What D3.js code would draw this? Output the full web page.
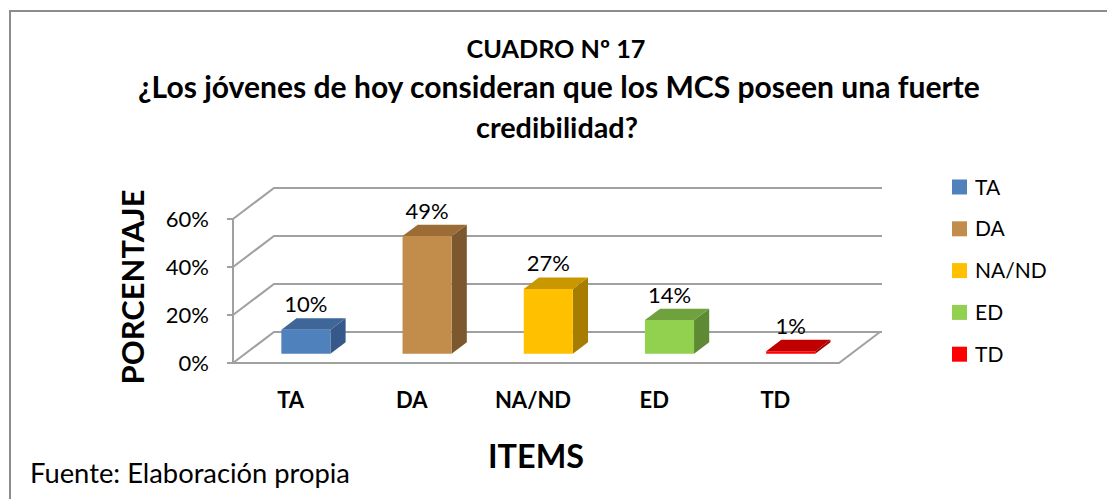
<!DOCTYPE html>
<html>
<head>
<meta charset="utf-8">
<script src="https://cdn.jsdelivr.net/npm/d3@7"></script>
<style>
  html, body { margin: 0; padding: 0; background: #fff; }
  svg { display: block; }
  text { font-family: Lato, "Open Sans", sans-serif; fill: #000; }
</style>
</head>
<body>
<svg id="chart" width="1107" height="499"></svg>
<script>
// ---- data ----
const categories = ["TA", "DA", "NA/ND", "ED", "TD"];
const values = [10, 49, 27, 14, 1];
const valueLabels = ["10%", "49%", "27%", "14%", "1%"];
const yTicks = [0, 20, 40, 60];
const tickLabels = ["0%", "20%", "40%", "60%"];
const titleLines = ["CUADRO Nº 17", "¿Los jóvenes de hoy consideran que los MCS poseen una fuerte", "credibilidad?"];
const xTitle = "ITEMS";
const yTitle = "PORCENTAJE";
const source = "Fuente: Elaboración propia";
// colours: [front, top, side] per category, legend colour
const faceColors = [
  ["#4F81BD", "#3E6699", "#36598A"],
  ["#C28C4A", "#9C6C36", "#7B582D"],
  ["#FFC000", "#C99700", "#A67D00"],
  ["#92D050", "#6FA13F", "#5E8A34"],
  ["#FF0000", "#C00000", "#A00000"]
];
const legendColors = ["#4F81BD", "#C28C4A", "#FFC000", "#92D050", "#FF0000"];

// ---- layout ----
const svg = d3.select("#chart");
const X0 = 233, X1 = 839;     // front plane x range
const DX = 41, DY = 31;       // depth offset
const Z0 = 0.30, Z1 = 0.67;   // bar depth range

const x = d3.scaleBand().domain(categories).range([X0, X1]).paddingInner(0).paddingOuter(0);
const y = d3.scaleLinear().domain([0, 60]).range([363, 219]);
const barW = x.bandwidth() * 0.405;

const P = (px, v, z) => [px + z * DX, y(v) - z * DY];
const grid = "#A0A0A0";

// frame
svg.append("path")
  .attr("d", "M10,510 L10,11 L1120,11")
  .attr("fill", "none").attr("stroke", "#8C8C8C").attr("stroke-width", 2);

// floor fill
svg.append("polygon")
  .attr("points", [P(X0,0,0), P(X1,0,0), P(X1,0,1), P(X0,0,1)].map(p => p.join(",")).join(" "))
  .attr("fill", "#fff");

// gridlines (side wall + back wall)
const gl = svg.append("g").attr("stroke", grid).attr("stroke-width", 2).attr("fill", "none");
yTicks.forEach(t => {
  gl.append("polyline")
    .attr("points", [P(X0,t,0), P(X0,t,1), P(X1 + 2, t, 1)].map(p => p.join(",")).join(" "));
});
// floor front and right edges
gl.append("polyline")
  .attr("points", [P(X0,0,0), P(X1,0,0), P(X1,0,1)].map(p => p.join(",")).join(" "));
// front vertical axis
gl.append("line").attr("x1", X0).attr("x2", X0).attr("y1", y(0)).attr("y2", y(60));
// ticks
yTicks.forEach(t => {
  gl.append("line").attr("x1", X0 - 6).attr("x2", X0).attr("y1", y(t)).attr("y2", y(t));
});

// helper to fit a text to a target width
function fit(sel, w) {
  const n = sel.node();
  const len = n.getComputedTextLength();
  const fs = parseFloat(sel.attr("font-size"));
  sel.attr("font-size", fs * w / len);
}

// tick labels
svg.append("g").selectAll("text").data(yTicks).join("text")
  .attr("x", 209).attr("y", d => y(d) + 7.5)
  .attr("text-anchor", "end").attr("font-size", 22)
  .text((d, i) => tickLabels[i]);

// bars
const bars = svg.append("g");
categories.forEach((c, i) => {
  const v = values[i];
  const xl = x(c) + (x.bandwidth() - barW) / 2;
  const xr = xl + barW;
  const col = faceColors[i];
  const pts = a => a.map(p => p.join(",")).join(" ");
  const g = bars.append("g");
  // side
  g.append("polygon").attr("points", pts([P(xr,0,Z0), P(xr,v,Z0), P(xr,v,Z1), P(xr,0,Z1)])).attr("fill", col[2]);
  // top
  g.append("polygon").attr("points", pts([P(xl,v,Z0), P(xr,v,Z0), P(xr,v,Z1), P(xl,v,Z1)])).attr("fill", col[1]);
  // front
  g.append("polygon").attr("points", pts([P(xl,0,Z0), P(xr,0,Z0), P(xr,v,Z0), P(xl,v,Z0)])).attr("fill", col[0]);
  // data label
  const top = P((xl + xr) / 2, v, Z1);
  g.append("text")
    .attr("x", (xl + xr) / 2 + Z0 * DX).attr("y", top[1] - 6)
    .attr("text-anchor", "middle").attr("font-size", 22)
    .text(valueLabels[i]);
});

// category labels
svg.append("g").selectAll("text").data(categories).join("text")
  .attr("x", d => x(d) + x.bandwidth() / 2 - 3).attr("y", 408)
  .attr("text-anchor", "middle").attr("font-size", 22).attr("font-weight", "bold")
  .text(d => d);

// titles
const titleBase = [58, 98, 138];
const titleW = [179, 842, 162];
const titleCx = [556, 559, 557];
titleLines.forEach((t, i) => {
  const s = svg.append("text")
    .attr("x", titleCx[i]).attr("y", titleBase[i])
    .attr("text-anchor", "middle").attr("font-size", 22).attr("font-weight", "bold")
    .text(t);
  fit(s, titleW[i]);
});

// axis titles
const xt = svg.append("text").attr("x", 536).attr("y", 468)
  .attr("text-anchor", "middle").attr("font-size", 28).attr("font-weight", "bold").text(xTitle);
fit(xt, 96);
const yt = svg.append("text").attr("transform", "translate(144,287) rotate(-90)")
  .attr("text-anchor", "middle").attr("font-size", 28).attr("font-weight", "bold").text(yTitle);
fit(yt, 195);

// source
const src = svg.append("text").attr("x", 30).attr("y", 483).attr("font-size", 21).text(source);
fit(src, 320);

// legend
const lg = svg.append("g");
categories.forEach((c, i) => {
  const cy = 187 + i * 41.8;
  lg.append("rect").attr("x", 952).attr("y", cy - 7.5).attr("width", 15).attr("height", 15).attr("fill", legendColors[i]);
  lg.append("text").attr("x", 975).attr("y", cy + 7.5).attr("font-size", 21).text(c);
});
</script>
</body>
</html>
